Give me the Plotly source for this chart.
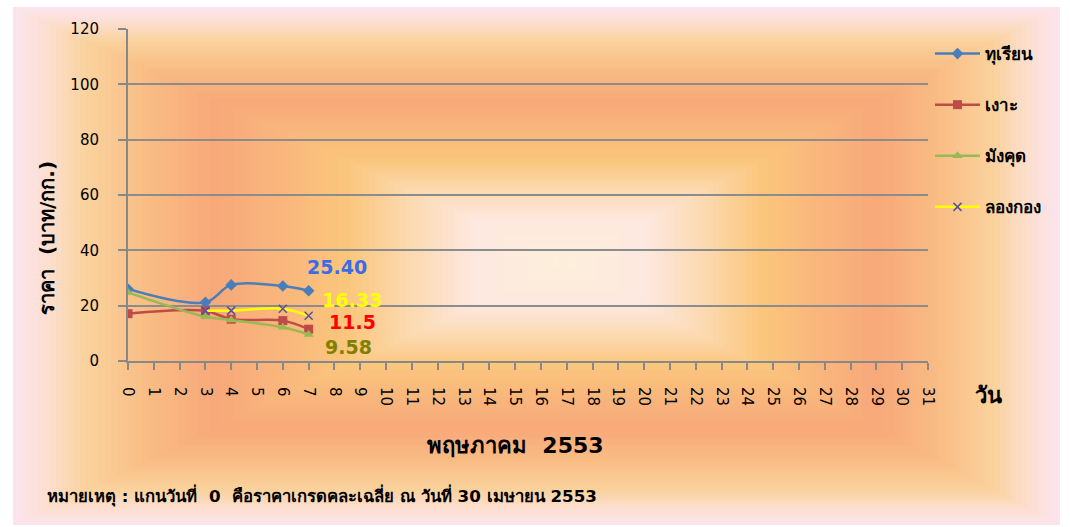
import plotly.graph_objects as go

# ---------------- data ----------------
days_durian = [0, 3, 4, 6, 7]
durian = [26.0, 21.2, 27.5, 27.1, 25.40]
days_rambutan = [0, 3, 4, 6, 7]
rambutan = [17.1, 18.1, 15.1, 14.6, 11.5]
days_mangosteen = [0, 3, 4, 6, 7]
mangosteen = [24.8, 16.0, 14.8, 12.2, 9.58]
days_longkong = [3, 4, 6, 7]
longkong = [18.2, 18.2, 18.9, 16.33]

series_names = ["ทุเรียน", "เงาะ", "มังคุด", "ลองกอง"]
last_labels = ["25.40", "16.33", "11.5", "9.58"]
x_ticks = list(range(0, 32))
y_ticks = [0, 20, 40, 60, 80, 100, 120]

# ---------------- layout geometry (pixels) ----------------
W, H = 1070, 527
PL, PR, PT, PB = 128, 928, 29, 361  # plot area


def px(x):
    return (x - PL) / (PR - PL)


def py(y):
    return (PB - y) / (PB - PT)


FONT = "Tahoma, DejaVu Sans, sans-serif"

fig = go.Figure()

line_w = 2.5
fig.add_trace(go.Scatter(x=days_durian, y=durian, name=series_names[0], mode="lines+markers",
                         line=dict(color="#4A7EBB", width=line_w, shape="spline"),
                         marker=dict(symbol="diamond", size=9, color="#4A7EBB"),
                         legendgroup="a"))
fig.add_trace(go.Scatter(x=days_rambutan, y=rambutan, name=series_names[1], mode="lines+markers",
                         line=dict(color="#BE4B48", width=line_w, shape="spline"),
                         marker=dict(symbol="square", size=9, color="#BE4B48"),
                         legendgroup="b"))
fig.add_trace(go.Scatter(x=days_mangosteen, y=mangosteen, name=series_names[2], mode="lines+markers",
                         line=dict(color="#98B954", width=line_w, shape="spline"),
                         marker=dict(symbol="triangle-up", size=9, color="#98B954"),
                         legendgroup="c"))
fig.add_trace(go.Scatter(x=days_longkong, y=longkong, name=series_names[3], mode="lines+markers",
                         line=dict(color="#FFFF00", width=line_w, shape="spline"),
                         marker=dict(symbol="x-thin", size=8, color="#5A4FA0",
                                     line=dict(width=1.5, color="#5A4FA0")),
                         legendgroup="d"))

# ---------------- background gradient (rectangular, from center) ----------------
stops = [
    (0.00, (252, 228, 236)),
    (0.05, (252, 224, 212)),
    (0.13, (250, 210, 156)),
    (0.24, (249, 188, 132)),
    (0.36, (248, 168, 122)),
    (0.48, (249, 182, 124)),
    (0.60, (250, 198, 124)),
    (0.72, (252, 218, 178)),
    (0.83, (253, 232, 224)),
    (1.00, (252, 240, 218)),
]


def interp(t):
    for (t0, c0), (t1, c1) in zip(stops[:-1], stops[1:]):
        if t0 <= t <= t1:
            f = (t - t0) / (t1 - t0) if t1 > t0 else 0
            return "rgb(%d,%d,%d)" % tuple(round(a + (b - a) * f) for a, b in zip(c0, c1))
    return "rgb(%d,%d,%d)" % stops[-1][1]


BL, BR, BT, BB = 13, 1060, 7, 525
CX, CY = 565, 262
N = 90
shapes = []
for i in range(N):
    t = i / N
    l = BL + t * (CX - BL)
    r = BR - t * (BR - CX)
    tp = BT + t * (CY - BT)
    bt = BB - t * (BB - CY)
    shapes.append(dict(type="rect", xref="paper", yref="paper", layer="below",
                       x0=px(l), x1=px(r), y0=py(bt), y1=py(tp),
                       fillcolor=interp(t), line=dict(width=0)))

# ---------------- annotations ----------------
ann = []
label_colors = ["#3D6BE6", "#FFFF00", "#FF0000", "#808000"]
label_vals = [durian[-1], longkong[-1], rambutan[-1], mangosteen[-1]]
label_x = [days_durian[-1], days_longkong[-1], days_rambutan[-1], days_mangosteen[-1]]
shifts = [(-4, 24), (11, 16), (18, 7), (14, -12)]
for txt, col, xv, yv, (dx, dy) in zip(last_labels, label_colors, label_x, label_vals, shifts):
    ann.append(dict(x=xv, y=yv, xref="x", yref="y", text="<b>%s</b>" % txt, showarrow=False,
                    xanchor="left", yanchor="middle", xshift=dx, yshift=dy,
                    font=dict(family="DejaVu Sans, Verdana, sans-serif", size=19, color=col)))

ann.append(dict(x=px(47), y=py(238), xref="paper", yref="paper", showarrow=False,
                xanchor="center", yanchor="middle",
                text="<b>ราคา\u00a0\u00a0(บาท/กก.)</b>", textangle=-90,
                font=dict(family=FONT, size=20, color="black")))
ann.append(dict(x=px(515), y=py(445), xref="paper", yref="paper", showarrow=False,
                xanchor="center", yanchor="middle",
                text="<b>พฤษภาคม\u00a0\u00a02553</b>",
                font=dict(family=FONT, size=22, color="black")))
ann.append(dict(x=px(988), y=py(395), xref="paper", yref="paper", showarrow=False,
                xanchor="center", yanchor="middle",
                text="<b>วัน</b>",
                font=dict(family=FONT, size=22, color="black")))
ann.append(dict(x=px(45), y=py(495), xref="paper", yref="paper", showarrow=False,
                xanchor="left", yanchor="middle",
                text="<b>หมายเหตุ : แกนวันที่\u00a0\u00a00\u00a0\u00a0คือราคาเกรดคละเฉลี่ย ณ วันที่ 30 เมษายน 2553</b>",
                font=dict(family=FONT, size=16.7, color="black")))

fig.update_layout(
    width=W, height=H,
    margin=dict(l=PL, r=W - PR, t=PT, b=H - PB, pad=0),
    paper_bgcolor="white",
    plot_bgcolor="rgba(0,0,0,0)",
    shapes=shapes,
    annotations=ann,
    showlegend=True,
    legend=dict(x=px(930), y=py(36), xanchor="left", yanchor="top",
                bgcolor="rgba(0,0,0,0)", tracegroupgap=26, itemwidth=45,
                font=dict(family=FONT, size=17, color="black"),
                traceorder="grouped"),
    font=dict(family=FONT, color="black"),
)
for tr in fig.data:
    tr.name = "<b>%s</b>" % tr.name

fig.update_xaxes(range=[0, 31], tickmode="array", tickvals=x_ticks,
                 ticktext=[str(v) for v in x_ticks], tickangle=90,
                 showgrid=False, zeroline=False, showline=True,
                 linecolor="#888888", linewidth=2, ticks="outside", ticklen=7,
                 tickcolor="#888888", tickwidth=2, ticklabelstandoff=14,
                 tickfont=dict(family=FONT, size=15, color="black"))
fig.update_yaxes(range=[0, 120], tickmode="array", tickvals=y_ticks,
                 showgrid=True, gridcolor="#8C8C8C", gridwidth=1.5,
                 zeroline=False, showline=True, linecolor="#888888", linewidth=2,
                 ticks="outside", ticklen=8, tickcolor="#888888", tickwidth=2,
                 ticklabelstandoff=16,
                 tickfont=dict(family=FONT, size=15, color="black"))

fig.write_html("out.html", config={"displayModeBar": False},
               post_script="document.body.style.margin='0';")
